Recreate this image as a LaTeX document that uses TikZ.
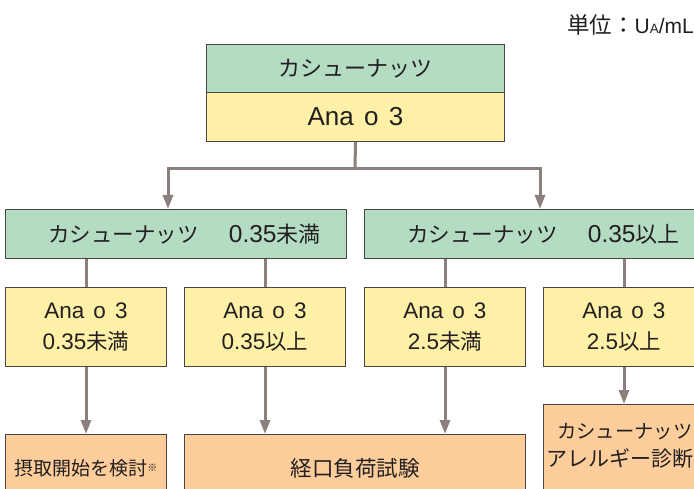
\documentclass[tikz,border=0pt]{standalone}
\usepackage{fontspec}
\setmainfont{Liberation Sans}
\newfontfamily\jpfont{Noto Sans CJK JP}
\usetikzlibrary{arrows.meta}
\definecolor{gfill}{HTML}{B3DCC2}
\definecolor{yfill}{HTML}{FFF0A8}
\definecolor{ofill}{HTML}{FDCE9B}
\definecolor{bord}{HTML}{4A4542}
\definecolor{arrc}{HTML}{8C807E}
\definecolor{txt}{HTML}{231F20}
\newcommand\JP[2]{{\fontsize{#1}{#1}\jpfont #2}}
\newcommand\fs[1]{\fontsize{#1}{#1}\selectfont}
\newcommand\Ana{Ana\hspace{0.4em}o\hspace{0.4em}3}
\tikzset{
  box/.style={draw=bord, line width=1pt, anchor=north west, inner sep=0pt, text=txt, align=center},
  gbox/.style={box, fill=gfill},
  ybox/.style={box, fill=yfill, minimum width=161pt, minimum height=79pt, font=\fontsize{22.5}{31}\selectfont},
  obox/.style={box, fill=ofill},
  conn/.style={draw=arrc, line width=3pt},
  arr/.style={conn, -{Triangle[length=14pt,width=10pt]}},
  plain/.style={inner sep=0pt, text=txt}
}
\begin{document}
\begin{tikzpicture}[x=1pt,y=-1pt]
\useasboundingbox (0,0) rectangle (694,489);
\clip (0,0) rectangle (694,489);
% unit
\node[plain, anchor=east] (unit) at (694,25) {\JP{22.5}{単位：}\fs{21}U\fs{13.5}A\fs{21}/mL};
% top box
\node[gbox, minimum width=298pt, minimum height=48pt] (tg) at (206,44) {\JP{22}{カシューナッツ}};
\node[box, fill=yfill, minimum width=298pt, minimum height=49pt] (ty) at (206,92) {\fs{26}\Ana};
% green row
\node[gbox, minimum width=341pt, minimum height=49pt] (g1) at (5,209)
  {\hspace*{17pt}\JP{21.5}{カシューナッツ}\hspace{30pt}\fs{24.5}0.35\JP{22}{未満}};
\node[gbox, minimum width=341pt, minimum height=49pt] (g2) at (364,209)
  {\hspace*{17pt}\JP{21.5}{カシューナッツ}\hspace{30pt}\fs{24.5}0.35\JP{22}{以上}};
% yellow row
\node[ybox] (y1) at (5,287) {\Ana\\0.35\JP{21.5}{未満}};
\node[ybox] (y2) at (184,287) {\Ana\\0.35\JP{21.5}{以上}};
\node[ybox] (y3) at (364,287) {\Ana\\2.5\JP{21.5}{未満}};
\node[ybox] (y4) at (543,287) {\Ana\\2.5\JP{21.5}{以上}};
% orange row
\node[obox, minimum width=161pt, minimum height=68pt] (o1) at (5,434)
  {\JP{19}{摂取開始を検討}\raisebox{4.5pt}{\JP{10}{※}}};
\node[obox, minimum width=341pt, minimum height=68pt] (o2) at (184,434) {\JP{21.5}{経口負荷試験}};
\node[obox, minimum width=200pt, minimum height=110pt] (o4) at (543,404) {};
\node[plain, anchor=west] (o4a) at ([shift={(14,28)}]o4.north west) {\JP{19.3}{カシューナッツ}};
\node[plain, anchor=west] (o4b) at ([shift={(3,54)}]o4.north west) {\JP{21}{アレルギー診断}};
% connectors
\coordinate (j) at (355,169);
\coordinate (a1) at (168,209);
\coordinate (a2) at (540,209);
\draw[conn] (ty.south) -- (j);
\draw[arr] (j) -| (a1);
\draw[arr] (j) -| (a2);
\draw[conn] (y1.north |- g1.south) -- (y1.north);
\draw[conn] (y2.north |- g1.south) -- (y2.north);
\draw[conn] (y3.north |- g2.south) -- (y3.north);
\draw[conn] (y4.north |- g2.south) -- (y4.north);
\draw[arr] (y1.south) -- (o1.north);
\draw[arr] (y2.south) -- (y2.south |- o2.north);
\draw[arr] (y3.south) -- (y3.south |- o2.north);
\draw[arr] (y4.south) -- (y4.south |- o4.north);
\end{tikzpicture}
\end{document}
